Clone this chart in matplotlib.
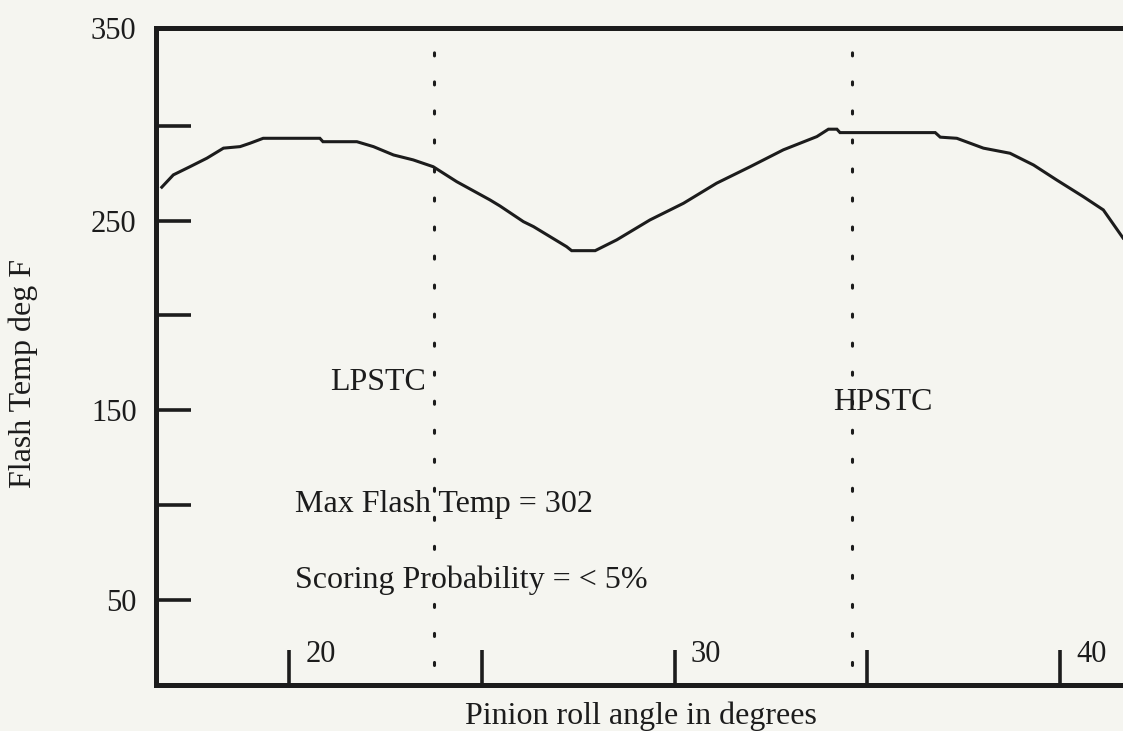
import matplotlib
matplotlib.use("Agg")
import matplotlib.pyplot as plt

# ---- data ----
angle = [16.70, 17.00, 17.43, 17.87, 18.30, 18.73, 18.99, 19.33, 20.03, 20.80,
         20.88, 21.76, 22.19, 22.71, 23.22, 23.74, 24.35, 25.21, 25.47, 26.08,
         26.34, 27.20, 27.33, 27.94, 28.50, 29.36, 30.23, 31.09, 31.96, 32.82,
         33.69, 33.99, 34.21, 34.29, 35.85, 36.76, 36.89, 37.32, 38.01, 38.70,
         39.31, 39.91, 40.60, 41.12, 41.63]
flash_temp = [267.7, 274.2, 278.5, 283.0, 288.3, 289.1, 290.9, 293.5, 293.5, 293.5,
              291.7, 291.7, 289.1, 284.7, 282.1, 278.5, 270.6, 261.0, 257.8, 249.5,
              246.9, 236.3, 234.2, 234.2, 239.9, 250.4, 259.2, 269.8, 278.5, 287.4,
              294.4, 298.3, 298.3, 296.5, 296.5, 296.5, 294.1, 293.5, 288.3, 285.6,
              279.4, 271.5, 262.7, 255.7, 240.9]
x_ticks = [20, 25, 30, 35, 40]
x_tick_labels = ["20", "", "30", "", "40"]
y_ticks = [50, 100, 150, 200, 250, 300]
y_tick_labels = ["50", "", "150", "", "250", ""]
y_top_label = "350"
lpstc_x = 23.76
hpstc_x = 34.6

BG = "#f5f5f0"
INK = "#1c1c1c"
FONT = "Liberation Serif"
FS = 23

fig = plt.figure(figsize=(11.23, 7.31), dpi=100, facecolor=BG)
ax = fig.add_axes([156 / 1123, 46 / 731, 1 - 156 / 1123, (685 - 28) / 731])
ax.set_facecolor(BG)

ax.plot(angle, flash_temp, color=INK, lw=2.2, solid_joinstyle="miter")

for xv in (lpstc_x, hpstc_x):
    ax.axvline(xv, color=INK, lw=2.2, linestyle=(0, (1, 8.5)),
               dash_capstyle="round", ymin=0.03, ymax=0.985)

ax.set_xlim(16.55, 41.63)
ax.set_ylim(5, 351.7)

for side in ("left", "bottom", "top"):
    ax.spines[side].set_linewidth(3.6)
    ax.spines[side].set_color(INK)
ax.spines["right"].set_visible(False)

ax.set_xticks(x_ticks)
ax.set_xticklabels([])
ax.set_yticks(y_ticks)
ax.set_yticklabels(y_tick_labels, fontfamily=FONT, fontsize=FS - 1, color=INK)
ax.set_yticks([351.7], minor=True)
ax.set_yticklabels([y_top_label], minor=True, fontfamily=FONT, fontsize=FS - 1,
                   color=INK)
ax.tick_params(axis="both", which="major", direction="in", length=25, width=2.6,
               color=INK)
ax.tick_params(axis="y", which="both", pad=14)
ax.tick_params(axis="y", which="minor", length=0)
ax.tick_params(axis="x", pad=0)

# x tick labels placed inside the axes, to the right of each tick
for t, lab in zip(x_ticks, x_tick_labels):
    if lab:
        ax.text(t + 0.42, 21, lab, fontfamily=FONT, fontsize=FS - 1, color=INK,
                ha="left", va="center")

ax.text(21.06, 164.4, "LPSTC", fontfamily=FONT, fontsize=FS, color=INK,
        ha="left", va="center")
ax.text(34.11, 153.9, "HPSTC", fontfamily=FONT, fontsize=FS, color=INK,
        ha="left", va="center")
ax.text(20.16, 100.1, "Max Flash Temp = 302", fontfamily=FONT, fontsize=FS,
        color=INK, ha="left", va="center")
ax.text(20.16, 60.5, "Scoring Probability = < 5%", fontfamily=FONT, fontsize=FS,
        color=INK, ha="left", va="center")

fig.text(641 / 1123, 1 - 716 / 731, "Pinion roll angle in degrees",
         fontfamily=FONT, fontsize=FS, color=INK, ha="center", va="center")
fig.text(23 / 1123, 1 - 374 / 731, "Flash Temp deg F", fontfamily=FONT,
         fontsize=FS, color=INK, ha="center", va="center", rotation=90)

fig.savefig("out.png", dpi=100, facecolor=BG)
